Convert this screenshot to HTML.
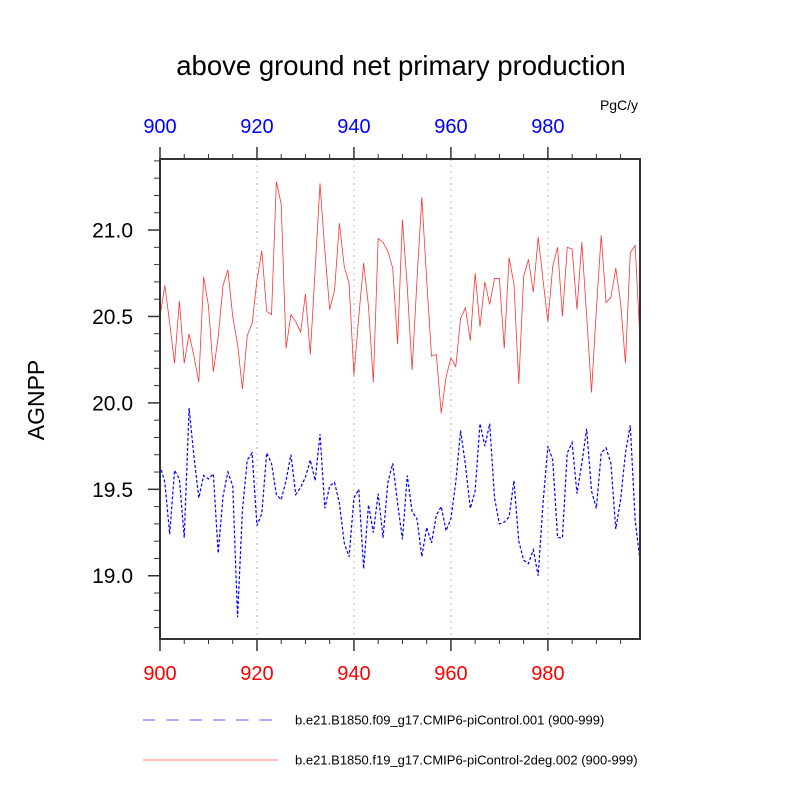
<!DOCTYPE html>
<html><head><meta charset="utf-8"><style>
body{margin:0;background:#fff;}
svg text{font-family:"Liberation Sans",sans-serif;}
</style></head><body>
<svg id="chart" width="800" height="800" viewBox="0 0 800 800" xmlns="http://www.w3.org/2000/svg">
<text x="401" y="75" text-anchor="middle" font-size="27.5" fill="#000">above ground net primary production</text>
<text x="619" y="110" text-anchor="middle" font-size="14" fill="#000">PgC/y</text>
<text transform="translate(44,400) rotate(-90)" text-anchor="middle" font-size="23" fill="#000">AGNPP</text>
<g id="grid"></g>
<g id="series"></g>
<g id="axes"></g>
<g>
<line x1="143" y1="720" x2="273" y2="720" stroke="#55f" stroke-width="1" stroke-dasharray="12.3,11"/>
<text x="295" y="724.5" font-size="13" fill="#000">b.e21.B1850.f09_g17.CMIP6-piControl.001 (900-999)</text>
<line x1="143" y1="760" x2="278" y2="760" stroke="#f55" stroke-width="0.8"/>
<text x="295" y="764.5" font-size="13" fill="#000">b.e21.B1850.f19_g17.CMIP6-piControl-2deg.002 (900-999)</text>
</g>
</svg>
<script>
const startYear = 900;
const redValues = [20.50,20.68,20.46,20.23,20.59,20.23,20.40,20.27,20.12,20.73,20.56,20.18,20.38,20.68,20.77,20.50,20.34,20.08,20.39,20.46,20.71,20.88,20.53,20.51,21.28,21.15,20.315,20.51,20.47,20.41,20.63,20.28,20.77,21.27,20.88,20.54,20.65,21.04,20.79,20.69,20.16,20.50,20.81,20.56,20.12,20.95,20.93,20.875,20.78,20.34,21.06,20.67,20.19,20.71,21.19,20.71,20.27,20.28,19.94,20.15,20.26,20.21,20.49,20.55,20.36,20.75,20.44,20.70,20.57,20.72,20.72,20.315,20.84,20.69,20.11,20.73,20.83,20.64,20.96,20.71,20.47,20.79,20.90,20.50,20.90,20.89,20.54,20.93,20.50,20.06,20.54,20.97,20.58,20.61,20.78,20.58,20.23,20.87,20.91,20.36];
const blueValues = [19.64,19.54,19.24,19.61,19.56,19.22,19.97,19.69,19.45,19.58,19.56,19.59,19.13,19.46,19.60,19.52,18.76,19.38,19.67,19.71,19.29,19.36,19.71,19.65,19.47,19.44,19.55,19.70,19.47,19.51,19.57,19.67,19.55,19.82,19.39,19.52,19.54,19.42,19.19,19.11,19.45,19.50,19.04,19.41,19.25,19.475,19.22,19.54,19.65,19.42,19.21,19.58,19.37,19.33,19.11,19.28,19.19,19.35,19.40,19.26,19.33,19.54,19.84,19.64,19.39,19.49,19.88,19.75,19.88,19.45,19.30,19.31,19.34,19.55,19.20,19.09,19.07,19.15,19.00,19.42,19.75,19.67,19.22,19.22,19.71,19.77,19.475,19.65,19.85,19.49,19.39,19.71,19.74,19.65,19.27,19.44,19.71,19.87,19.32,19.09];
const xTickLabels = [900,920,940,960,980];
const yTickLabels = ["19.0","19.5","20.0","20.5","21.0"];

const L=160,R=640,T=159,B=639;
const X0=900,X1=999,Y0=18.634,Y1=21.411;
const sx=v=>L+(v-X0)/(X1-X0)*(R-L);
const sy=v=>B-(v-Y0)/(Y1-Y0)*(B-T);
const NS="http://www.w3.org/2000/svg";
function mk(tag,attrs,parent){const e=document.createElementNS(NS,tag);for(const k in attrs)e.setAttribute(k,attrs[k]);parent.appendChild(e);return e;}
const grid=document.getElementById('grid'),series=document.getElementById('series'),axes=document.getElementById('axes');

xTickLabels.forEach((t,i)=>{
  if(i>0){const g=mk('line',{x1:sx(t),x2:sx(t),y1:T,y2:B,stroke:'#bbb','stroke-width':1,'stroke-dasharray':'2,4'},grid);
  
  }
});

function path(vals,color,w,dash,name){
  const d=vals.map((v,i)=>(i?'L':'M')+sx(startYear+i).toFixed(2)+','+sy(v).toFixed(2)).join(' ');
  const p=mk('path',{d:d,fill:'none',stroke:color,'stroke-width':w},series);
  if(dash)p.setAttribute('stroke-dasharray',dash);
  
  
}
path(redValues,'#f33',0.8,null,'series-2deg-line');
path(blueValues,'#00f',1.2,'3,2','series-1deg-line');

const frame=mk('rect',{x:L,y:T,width:R-L,height:B-T,fill:'none',stroke:'#333','stroke-width':2},axes);



for(let y=900;y<=995;y+=5){
  const major=(y%20===0);const len=major?12:5;
  const t1=mk('line',{x1:sx(y),x2:sx(y),y1:T,y2:T-len,stroke:'#333','stroke-width':major?1.5:1},axes);
  
  
  const t2=mk('line',{x1:sx(y),x2:sx(y),y1:B,y2:B+len,stroke:'#333','stroke-width':major?1.5:1},axes);
  
  
}
xTickLabels.forEach(t=>{
  const a=mk('text',{x:sx(t),y:133,'text-anchor':'middle','font-size':20,fill:'#00f'},axes);a.textContent=t;
  
  
  const b=mk('text',{x:sx(t),y:680,'text-anchor':'middle','font-size':20,fill:'#f00'},axes);b.textContent=t;
  
  
});
for(let k=187;k<=214;k++){
  const v=k/10;const major=(k%5===0);const len=major?12:6;
  const t=mk('line',{x1:L,x2:L-len,y1:sy(v),y2:sy(v),stroke:'#333','stroke-width':major?1.5:1},axes);
  
  
}
yTickLabels.forEach(s=>{
  const a=mk('text',{x:133,y:sy(parseFloat(s))+7.5,'text-anchor':'end','font-size':21,fill:'#000'},axes);a.textContent=s;
  
  
});
</script>
</body></html>
